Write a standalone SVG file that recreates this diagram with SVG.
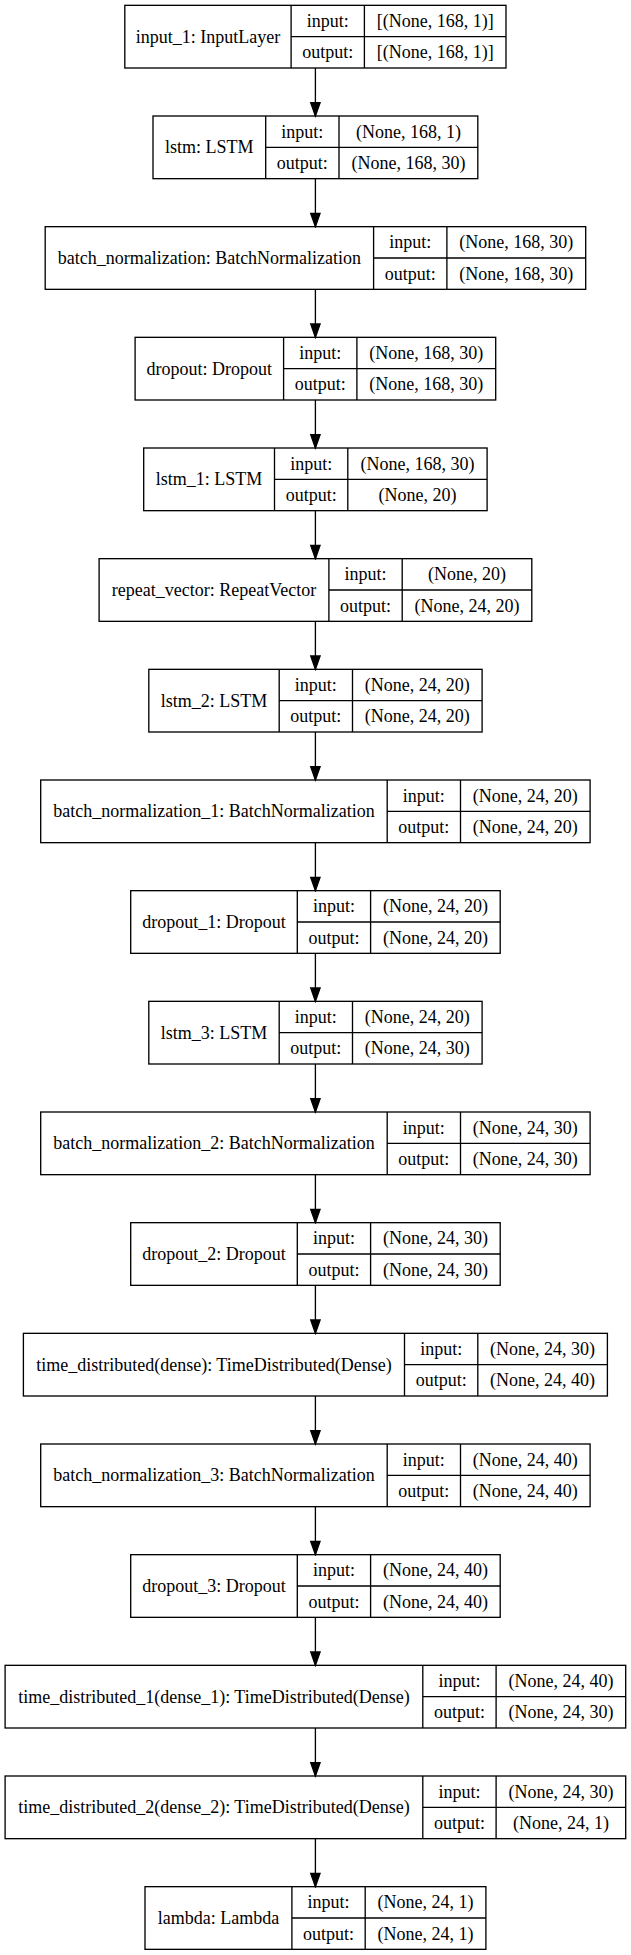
<svg xmlns="http://www.w3.org/2000/svg" width="631" height="1955" viewBox="0 0 631 1955">
<defs>
<style>
.b{fill:none;stroke:#000;stroke-width:1.33}
.t{font-family:"Liberation Serif","Times New Roman",serif;font-size:18px;text-anchor:middle;fill:#000}
.e{stroke:#000;stroke-width:1.33;fill:none}
</style>
<marker id="ah" markerUnits="userSpaceOnUse" markerWidth="16" markerHeight="12" viewBox="0 -6 14 12" refX="13.33" refY="0" orient="auto"><path d="M0,-4.67 L13.33,0 L0,4.67 Z" fill="#000" stroke="#000" stroke-width="1.33"/></marker>
</defs>
<rect x="0" y="0" width="631" height="1955" fill="#fff"/>
<g id="connectors">
<line class="e" x1="315.4" y1="68" x2="315.4" y2="116" marker-end="url(#ah)"/>
<line class="e" x1="315.4" y1="178.67" x2="315.4" y2="226.67" marker-end="url(#ah)"/>
<line class="e" x1="315.4" y1="289.33" x2="315.4" y2="337.33" marker-end="url(#ah)"/>
<line class="e" x1="315.4" y1="400" x2="315.4" y2="448" marker-end="url(#ah)"/>
<line class="e" x1="315.4" y1="510.67" x2="315.4" y2="558.67" marker-end="url(#ah)"/>
<line class="e" x1="315.4" y1="621.33" x2="315.4" y2="669.33" marker-end="url(#ah)"/>
<line class="e" x1="315.4" y1="732" x2="315.4" y2="780" marker-end="url(#ah)"/>
<line class="e" x1="315.4" y1="842.67" x2="315.4" y2="890.67" marker-end="url(#ah)"/>
<line class="e" x1="315.4" y1="953.33" x2="315.4" y2="1001.33" marker-end="url(#ah)"/>
<line class="e" x1="315.4" y1="1064" x2="315.4" y2="1112" marker-end="url(#ah)"/>
<line class="e" x1="315.4" y1="1174.67" x2="315.4" y2="1222.67" marker-end="url(#ah)"/>
<line class="e" x1="315.4" y1="1285.33" x2="315.4" y2="1333.33" marker-end="url(#ah)"/>
<line class="e" x1="315.4" y1="1396" x2="315.4" y2="1444" marker-end="url(#ah)"/>
<line class="e" x1="315.4" y1="1506.67" x2="315.4" y2="1554.67" marker-end="url(#ah)"/>
<line class="e" x1="315.4" y1="1617.33" x2="315.4" y2="1665.33" marker-end="url(#ah)"/>
<line class="e" x1="315.4" y1="1728" x2="315.4" y2="1776" marker-end="url(#ah)"/>
<line class="e" x1="315.4" y1="1838.67" x2="315.4" y2="1886.67" marker-end="url(#ah)"/>
</g>
<g id="input_1">
<rect class="b" x="124.8" y="5.33" width="381.2" height="62.67"/>
<path class="b" d="M291.1,5.33 V68 M364.4,5.33 V68 M291.1,36.67 H506"/>
<text class="t" x="207.95" y="42.67">input_1: InputLayer</text>
<text class="t" x="327.75" y="27">input:</text>
<text class="t" x="327.75" y="58.33">output:</text>
<text class="t" x="435.2" y="27">[(None, 168, 1)]</text>
<text class="t" x="435.2" y="58.33">[(None, 168, 1)]</text>
</g>
<g id="lstm">
<rect class="b" x="153" y="116" width="324.8" height="62.67"/>
<path class="b" d="M265.7,116 V178.67 M339,116 V178.67 M265.7,147.33 H477.8"/>
<text class="t" x="209.35" y="153.33">lstm: LSTM</text>
<text class="t" x="302.35" y="137.67">input:</text>
<text class="t" x="302.35" y="169">output:</text>
<text class="t" x="408.4" y="137.67">(None, 168, 1)</text>
<text class="t" x="408.4" y="169">(None, 168, 30)</text>
</g>
<g id="batch_normalization">
<rect class="b" x="45.2" y="226.67" width="540.5" height="62.67"/>
<path class="b" d="M373.6,226.67 V289.33 M446.9,226.67 V289.33 M373.6,258 H585.7"/>
<text class="t" x="209.4" y="264">batch_normalization: BatchNormalization</text>
<text class="t" x="410.25" y="248.33">input:</text>
<text class="t" x="410.25" y="279.67">output:</text>
<text class="t" x="516.3" y="248.33">(None, 168, 30)</text>
<text class="t" x="516.3" y="279.67">(None, 168, 30)</text>
</g>
<g id="dropout">
<rect class="b" x="135.1" y="337.33" width="360.6" height="62.67"/>
<path class="b" d="M283.6,337.33 V400 M356.9,337.33 V400 M283.6,368.67 H495.7"/>
<text class="t" x="209.35" y="374.67">dropout: Dropout</text>
<text class="t" x="320.25" y="359">input:</text>
<text class="t" x="320.25" y="390.33">output:</text>
<text class="t" x="426.3" y="359">(None, 168, 30)</text>
<text class="t" x="426.3" y="390.33">(None, 168, 30)</text>
</g>
<g id="lstm_1">
<rect class="b" x="143.7" y="448" width="343.4" height="62.67"/>
<path class="b" d="M274.5,448 V510.67 M347.8,448 V510.67 M274.5,479.33 H487.1"/>
<text class="t" x="209.1" y="485.33">lstm_1: LSTM</text>
<text class="t" x="311.15" y="469.67">input:</text>
<text class="t" x="311.15" y="501">output:</text>
<text class="t" x="417.45" y="469.67">(None, 168, 30)</text>
<text class="t" x="417.45" y="501">(None, 20)</text>
</g>
<g id="repeat_vector">
<rect class="b" x="99.1" y="558.67" width="432.7" height="62.67"/>
<path class="b" d="M328.9,558.67 V621.33 M402.2,558.67 V621.33 M328.9,590 H531.8"/>
<text class="t" x="214" y="596">repeat_vector: RepeatVector</text>
<text class="t" x="365.55" y="580.33">input:</text>
<text class="t" x="365.55" y="611.67">output:</text>
<text class="t" x="467" y="580.33">(None, 20)</text>
<text class="t" x="467" y="611.67">(None, 24, 20)</text>
</g>
<g id="lstm_2">
<rect class="b" x="148.8" y="669.33" width="333.3" height="62.67"/>
<path class="b" d="M279.2,669.33 V732 M352.5,669.33 V732 M279.2,700.67 H482.1"/>
<text class="t" x="214" y="706.67">lstm_2: LSTM</text>
<text class="t" x="315.85" y="691">input:</text>
<text class="t" x="315.85" y="722.33">output:</text>
<text class="t" x="417.3" y="691">(None, 24, 20)</text>
<text class="t" x="417.3" y="722.33">(None, 24, 20)</text>
</g>
<g id="batch_normalization_1">
<rect class="b" x="40.7" y="780" width="549.4" height="62.67"/>
<path class="b" d="M387.2,780 V842.67 M460.5,780 V842.67 M387.2,811.33 H590.1"/>
<text class="t" x="213.95" y="817.33">batch_normalization_1: BatchNormalization</text>
<text class="t" x="423.85" y="801.67">input:</text>
<text class="t" x="423.85" y="833">output:</text>
<text class="t" x="525.3" y="801.67">(None, 24, 20)</text>
<text class="t" x="525.3" y="833">(None, 24, 20)</text>
</g>
<g id="dropout_1">
<rect class="b" x="130.7" y="890.67" width="369.5" height="62.67"/>
<path class="b" d="M297.3,890.67 V953.33 M370.6,890.67 V953.33 M297.3,922 H500.2"/>
<text class="t" x="214" y="928">dropout_1: Dropout</text>
<text class="t" x="333.95" y="912.33">input:</text>
<text class="t" x="333.95" y="943.67">output:</text>
<text class="t" x="435.4" y="912.33">(None, 24, 20)</text>
<text class="t" x="435.4" y="943.67">(None, 24, 20)</text>
</g>
<g id="lstm_3">
<rect class="b" x="148.8" y="1001.33" width="333.3" height="62.67"/>
<path class="b" d="M279.2,1001.33 V1064 M352.5,1001.33 V1064 M279.2,1032.67 H482.1"/>
<text class="t" x="214" y="1038.67">lstm_3: LSTM</text>
<text class="t" x="315.85" y="1023">input:</text>
<text class="t" x="315.85" y="1054.33">output:</text>
<text class="t" x="417.3" y="1023">(None, 24, 20)</text>
<text class="t" x="417.3" y="1054.33">(None, 24, 30)</text>
</g>
<g id="batch_normalization_2">
<rect class="b" x="40.7" y="1112" width="549.4" height="62.67"/>
<path class="b" d="M387.2,1112 V1174.67 M460.5,1112 V1174.67 M387.2,1143.33 H590.1"/>
<text class="t" x="213.95" y="1149.33">batch_normalization_2: BatchNormalization</text>
<text class="t" x="423.85" y="1133.67">input:</text>
<text class="t" x="423.85" y="1165">output:</text>
<text class="t" x="525.3" y="1133.67">(None, 24, 30)</text>
<text class="t" x="525.3" y="1165">(None, 24, 30)</text>
</g>
<g id="dropout_2">
<rect class="b" x="130.7" y="1222.67" width="369.5" height="62.67"/>
<path class="b" d="M297.3,1222.67 V1285.33 M370.6,1222.67 V1285.33 M297.3,1254 H500.2"/>
<text class="t" x="214" y="1260">dropout_2: Dropout</text>
<text class="t" x="333.95" y="1244.33">input:</text>
<text class="t" x="333.95" y="1275.67">output:</text>
<text class="t" x="435.4" y="1244.33">(None, 24, 30)</text>
<text class="t" x="435.4" y="1275.67">(None, 24, 30)</text>
</g>
<g id="time_distributed">
<rect class="b" x="23.4" y="1333.33" width="584" height="62.67"/>
<path class="b" d="M404.5,1333.33 V1396 M477.8,1333.33 V1396 M404.5,1364.67 H607.4"/>
<text class="t" x="213.95" y="1370.67">time_distributed(dense): TimeDistributed(Dense)</text>
<text class="t" x="441.15" y="1355">input:</text>
<text class="t" x="441.15" y="1386.33">output:</text>
<text class="t" x="542.6" y="1355">(None, 24, 30)</text>
<text class="t" x="542.6" y="1386.33">(None, 24, 40)</text>
</g>
<g id="batch_normalization_3">
<rect class="b" x="40.7" y="1444" width="549.4" height="62.67"/>
<path class="b" d="M387.2,1444 V1506.67 M460.5,1444 V1506.67 M387.2,1475.33 H590.1"/>
<text class="t" x="213.95" y="1481.33">batch_normalization_3: BatchNormalization</text>
<text class="t" x="423.85" y="1465.67">input:</text>
<text class="t" x="423.85" y="1497">output:</text>
<text class="t" x="525.3" y="1465.67">(None, 24, 40)</text>
<text class="t" x="525.3" y="1497">(None, 24, 40)</text>
</g>
<g id="dropout_3">
<rect class="b" x="130.7" y="1554.67" width="369.5" height="62.67"/>
<path class="b" d="M297.3,1554.67 V1617.33 M370.6,1554.67 V1617.33 M297.3,1586 H500.2"/>
<text class="t" x="214" y="1592">dropout_3: Dropout</text>
<text class="t" x="333.95" y="1576.33">input:</text>
<text class="t" x="333.95" y="1607.67">output:</text>
<text class="t" x="435.4" y="1576.33">(None, 24, 40)</text>
<text class="t" x="435.4" y="1607.67">(None, 24, 40)</text>
</g>
<g id="time_distributed_1">
<rect class="b" x="5.1" y="1665.33" width="620.6" height="62.67"/>
<path class="b" d="M422.8,1665.33 V1728 M496.1,1665.33 V1728 M422.8,1696.67 H625.7"/>
<text class="t" x="213.95" y="1702.67">time_distributed_1(dense_1): TimeDistributed(Dense)</text>
<text class="t" x="459.45" y="1687">input:</text>
<text class="t" x="459.45" y="1718.33">output:</text>
<text class="t" x="560.9" y="1687">(None, 24, 40)</text>
<text class="t" x="560.9" y="1718.33">(None, 24, 30)</text>
</g>
<g id="time_distributed_2">
<rect class="b" x="5.1" y="1776" width="620.6" height="62.67"/>
<path class="b" d="M422.8,1776 V1838.67 M496.1,1776 V1838.67 M422.8,1807.33 H625.7"/>
<text class="t" x="213.95" y="1813.33">time_distributed_2(dense_2): TimeDistributed(Dense)</text>
<text class="t" x="459.45" y="1797.67">input:</text>
<text class="t" x="459.45" y="1829">output:</text>
<text class="t" x="560.9" y="1797.67">(None, 24, 30)</text>
<text class="t" x="560.9" y="1829">(None, 24, 1)</text>
</g>
<g id="lambda">
<rect class="b" x="145" y="1886.67" width="340.9" height="62.67"/>
<path class="b" d="M291.9,1886.67 V1949.33 M365.2,1886.67 V1949.33 M291.9,1918 H485.9"/>
<text class="t" x="218.45" y="1924">lambda: Lambda</text>
<text class="t" x="328.55" y="1908.33">input:</text>
<text class="t" x="328.55" y="1939.67">output:</text>
<text class="t" x="425.55" y="1908.33">(None, 24, 1)</text>
<text class="t" x="425.55" y="1939.67">(None, 24, 1)</text>
</g>
</svg>
